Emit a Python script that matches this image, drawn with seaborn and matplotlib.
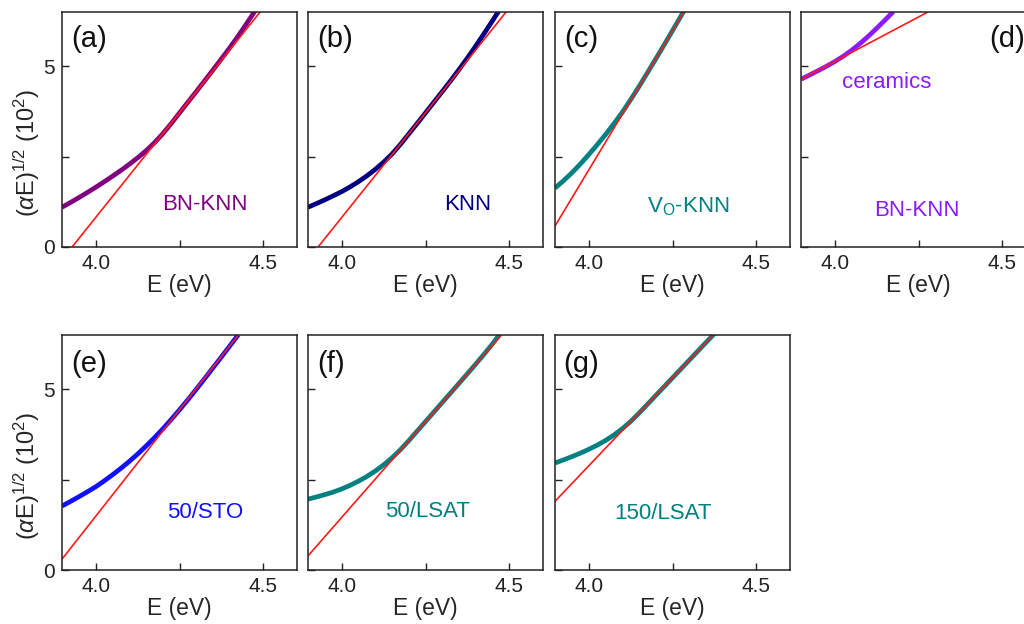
import matplotlib
matplotlib.use('Agg')
import matplotlib.pyplot as plt
import seaborn as sns
import pandas as pd
from matplotlib.ticker import MultipleLocator

# ── Data ──────────────────────────────────────────────────────────────────────
panel_tags = ['(a)', '(b)', '(c)', '(d)', '(e)', '(f)', '(g)']
sample_names = ['BN-KNN', 'KNN', 'V$_\\mathregular{O}$-KNN', 'BN-KNN',
                '50/STO', '50/LSAT', '150/LSAT']
curve_colors = ['#800080', '#000080', '#008080', '#8c1aff',
                '#1010ff', '#008080', '#008080']

e_ab = [3.9, 3.925, 3.95, 3.975, 4.0, 4.025, 4.05, 4.075, 4.1, 4.125, 4.15, 4.175,
        4.2, 4.225, 4.25, 4.275, 4.3, 4.325, 4.35, 4.375, 4.4, 4.425, 4.45, 4.475]
y_a = [1.10, 1.23, 1.365, 1.505, 1.65, 1.80, 1.955, 2.115, 2.285, 2.465, 2.66, 2.88,
       3.13, 3.41, 3.71, 4.005, 4.30, 4.60, 4.90, 5.205, 5.515, 5.84, 6.18, 6.53]
y_b = [1.10, 1.20, 1.305, 1.415, 1.53, 1.66, 1.805, 1.965, 2.145, 2.345, 2.57, 2.835,
       3.125, 3.415, 3.71, 4.005, 4.30, 4.60, 4.91, 5.23, 5.565, 5.91, 6.265, 6.625]

e_c = [3.9, 3.925, 3.95, 3.975, 4.0, 4.025, 4.05, 4.075, 4.1, 4.125, 4.15, 4.175,
       4.2, 4.225, 4.25, 4.275, 4.3]
y_c = [1.63, 1.83, 2.05, 2.29, 2.55, 2.82, 3.105, 3.405, 3.72, 4.07, 4.435, 4.815,
       5.20, 5.59, 5.985, 6.385, 6.79]

e_d = [3.9, 3.925, 3.95, 3.975, 4.0, 4.025, 4.05, 4.075, 4.1, 4.125, 4.15, 4.175]
y_d = [4.64, 4.755, 4.873, 4.995, 5.125, 5.27, 5.435, 5.62, 5.825, 6.045, 6.275, 6.51]

e_e = [3.9, 3.925, 3.95, 3.975, 4.0, 4.025, 4.05, 4.075, 4.1, 4.125, 4.15, 4.175,
       4.2, 4.225, 4.25, 4.275, 4.3, 4.325, 4.35, 4.375, 4.4, 4.425]
y_e = [1.77, 1.895, 2.025, 2.16, 2.30, 2.46, 2.63, 2.81, 3.00, 3.205, 3.425, 3.655,
       3.90, 4.16, 4.43, 4.71, 5.00, 5.295, 5.595, 5.895, 6.20, 6.505]

e_f = [3.9, 3.925, 3.95, 3.975, 4.0, 4.025, 4.05, 4.075, 4.1, 4.125, 4.15, 4.175,
       4.2, 4.225, 4.25, 4.275, 4.3, 4.325, 4.35, 4.375, 4.4, 4.425, 4.45, 4.475]
y_f = [1.96, 2.02, 2.085, 2.155, 2.24, 2.34, 2.455, 2.585, 2.735, 2.905, 3.10, 3.325,
       3.575, 3.84, 4.105, 4.37, 4.635, 4.90, 5.165, 5.43, 5.70, 5.975, 6.26, 6.57]

e_g = [3.9, 3.925, 3.95, 3.975, 4.0, 4.025, 4.05, 4.075, 4.1, 4.125, 4.15, 4.175,
       4.2, 4.225, 4.25, 4.275, 4.3, 4.325, 4.35, 4.375]
y_g = [2.96, 3.045, 3.135, 3.23, 3.335, 3.45, 3.58, 3.73, 3.905, 4.105, 4.335, 4.58,
       4.825, 5.07, 5.315, 5.56, 5.805, 6.05, 6.295, 6.54]

# linear fits (red): two end points each
fit_e = [[3.93, 4.49], [3.93, 4.49], [3.9, 4.284], [3.9, 4.278],
         [3.9, 4.425], [3.9, 4.476], [3.9, 4.371]]
fit_y = [[0.0, 6.5], [0.0, 6.5], [0.58, 6.5], [4.64, 6.5],
         [0.30, 6.5], [0.39, 6.5], [1.90, 6.5]]

curves_e = [e_ab, e_ab, e_c, e_d, e_e, e_f, e_g]
curves_y = [y_a, y_b, y_c, y_d, y_e, y_f, y_g]

# label positions in axes fraction (layout only)
tag_pos = [(0.04, 0.885), (0.04, 0.885), (0.04, 0.885), (0.80, 0.885),
           (0.04, 0.876), (0.04, 0.876), (0.035, 0.876)]
name_pos = [(0.61, 0.18), (0.68, 0.18), (0.566, 0.17), (0.494, 0.155),
            (0.61, 0.245), (0.51, 0.25), (0.46, 0.24)]

# ── Style ─────────────────────────────────────────────────────────────────────
sns.set_theme(style='ticks')
plt.rcParams['font.family'] = ['Liberation Sans', 'DejaVu Sans']
plt.rcParams['mathtext.fontset'] = 'custom'
plt.rcParams['mathtext.rm'] = 'Liberation Sans'
plt.rcParams['mathtext.it'] = 'Liberation Sans:italic'
plt.rcParams['axes.edgecolor'] = '#222222'
plt.rcParams['axes.linewidth'] = 1.1

fig = plt.figure(figsize=(10.24, 6.24), dpi=100)
W, H = 1024.0, 624.0
col_left = [62, 308, 555, 801]
row_top = [12, 335]
ax_w, ax_h = 235, 235

for i in range(7):
    r, c = (0, i) if i < 4 else (1, i - 4)
    left = col_left[c] / W
    bottom = 1 - (row_top[r] + ax_h) / H
    ax = fig.add_axes([left, bottom, ax_w / W, ax_h / H])

    df = pd.DataFrame({'E': curves_e[i], 'y': curves_y[i]})
    sns.lineplot(data=df, x='E', y='y', ax=ax, color=curve_colors[i],
                 linewidth=3.4, sort=True, solid_capstyle='butt')
    fd = pd.DataFrame({'E': fit_e[i], 'y': fit_y[i]})
    sns.lineplot(data=fd, x='E', y='y', ax=ax, color='#ff1a1a', linewidth=1.2)

    ax.set_xlim(3.9, 4.6)
    ax.set_ylim(0, 6.5)
    ax.xaxis.set_major_locator(MultipleLocator(0.5))
    ax.xaxis.set_minor_locator(MultipleLocator(0.25))
    ax.yaxis.set_major_locator(MultipleLocator(5))
    ax.yaxis.set_minor_locator(MultipleLocator(2.5))
    ax.xaxis.set_major_formatter(plt.FormatStrFormatter('%.1f'))
    ax.tick_params(which='both', direction='in', length=5, width=1.0,
                   labelsize=15, colors='#222222', pad=5)
    ax.tick_params(axis='y', which='both', labelleft=(c == 0))

    ax.set_xlabel('E (eV)', fontsize=16.5, labelpad=1)
    if c == 0:
        ax.set_ylabel(r'($\alpha$E)$^{1/2}$ (10$^{2}$)', fontsize=17)
        ax.yaxis.set_label_coords(-0.15, 0.40)
        ax.yaxis.label.set_va('center')
    else:
        ax.set_ylabel('')

    ax.text(tag_pos[i][0], tag_pos[i][1], panel_tags[i], transform=ax.transAxes,
            fontsize=21, ha='left', va='center', color='#111111')
    ax.text(name_pos[i][0], name_pos[i][1], sample_names[i], transform=ax.transAxes,
            fontsize=16, ha='center', va='center', color=curve_colors[i])
    if i == 3:
        ax.text(0.366, 0.70, 'ceramics', transform=ax.transAxes,
                fontsize=16, ha='center', va='center', color=curve_colors[i])

fig.savefig('out.png', dpi=100)
